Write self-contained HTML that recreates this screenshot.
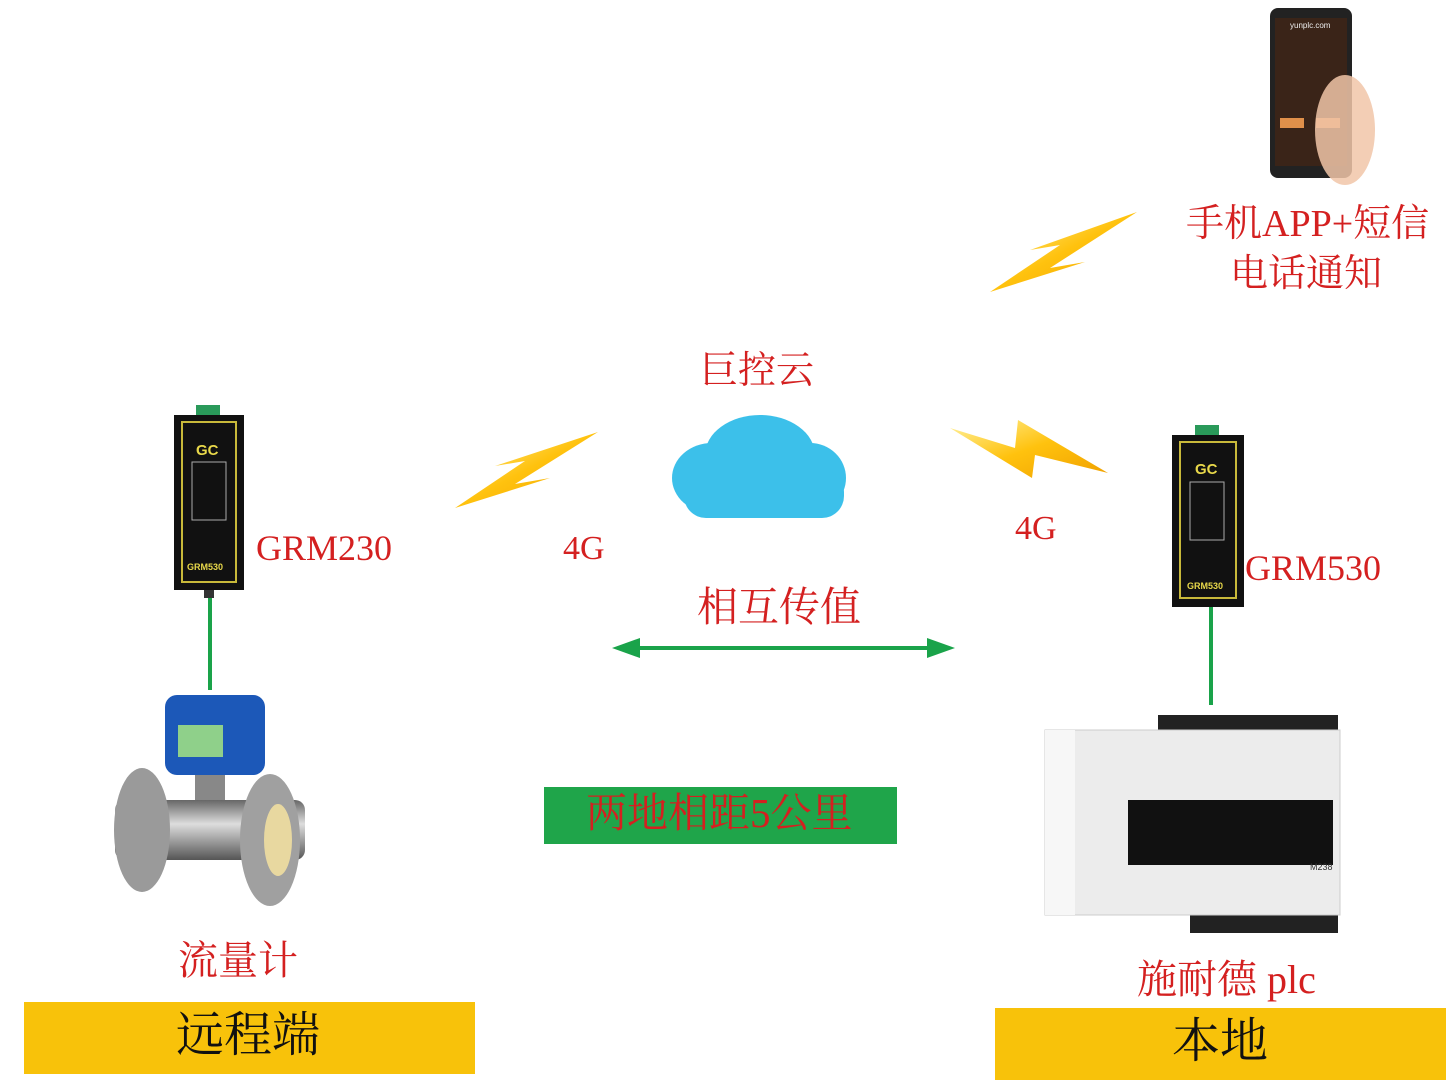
<!DOCTYPE html>
<html><head><meta charset="utf-8"><style>
body{margin:0;width:1446px;height:1080px;background:#fff;position:relative;overflow:hidden;font-family:"Liberation Serif","Noto Serif CJK SC",serif}
.t{position:absolute;color:#d42020;white-space:nowrap;line-height:1}
.abs{position:absolute}
</style></head><body>
<svg class="abs" style="left:0;top:0" width="1446" height="1080">
<defs>
<linearGradient id="bolt" x1="0" y1="0" x2="1" y2="1"><stop offset="0" stop-color="#fff2a0"/><stop offset="0.5" stop-color="#ffc20e"/><stop offset="1" stop-color="#f0a000"/></linearGradient>
<linearGradient id="pipe" x1="0" y1="0" x2="0" y2="1"><stop offset="0" stop-color="#666"/><stop offset="0.4" stop-color="#ddd"/><stop offset="1" stop-color="#555"/></linearGradient>
</defs>
<!-- bolts -->
<polygon points="455,508 525,461 495,466 598,432 515,484 550,478" fill="url(#bolt)"/>
<polygon points="990,292 1060,245 1030,250 1137,212 1050,268 1085,262" fill="url(#bolt)"/>
<polygon points="950,428 1015,448 1018,420 1108,473 1035,455 1032,478" fill="url(#bolt)"/>
<!-- cloud -->
<g fill="#3cc0ea">
<ellipse cx="760" cy="455" rx="55" ry="40"/>
<ellipse cx="712" cy="478" rx="40" ry="35"/>
<ellipse cx="810" cy="478" rx="36" ry="35"/>
<rect x="684" y="470" width="160" height="48" rx="22"/>
</g>
<!-- green lines -->
<line x1="210" y1="590" x2="210" y2="690" stroke="#1aa34a" stroke-width="4"/>
<line x1="1211" y1="600" x2="1211" y2="705" stroke="#1aa34a" stroke-width="4"/>
<line x1="625" y1="648" x2="940" y2="648" stroke="#1aa34a" stroke-width="4"/>
<polygon points="612,648 640,638 640,658" fill="#1aa34a"/>
<polygon points="955,648 927,638 927,658" fill="#1aa34a"/>
<!-- devices -->
<g>
<rect x="196" y="405" width="24" height="12" fill="#2a9a5a"/>
<rect x="174" y="415" width="70" height="175" fill="#111"/>
<rect x="182" y="422" width="54" height="160" fill="none" stroke="#c8b93a" stroke-width="2"/>
<text x="196" y="455" fill="#e8d84a" font-family="Liberation Sans" font-weight="bold" font-size="15">GC</text>
<rect x="192" y="462" width="34" height="58" fill="none" stroke="#aaa"/>
<text x="187" y="570" fill="#e8d84a" font-family="Liberation Sans" font-weight="bold" font-size="9">GRM530</text>
<rect x="204" y="590" width="10" height="8" fill="#333"/>
</g>
<g>
<rect x="1195" y="425" width="24" height="12" fill="#2a9a5a"/>
<rect x="1172" y="435" width="72" height="172" fill="#111"/>
<rect x="1180" y="442" width="56" height="156" fill="none" stroke="#c8b93a" stroke-width="2"/>
<text x="1195" y="474" fill="#e8d84a" font-family="Liberation Sans" font-weight="bold" font-size="15">GC</text>
<rect x="1190" y="482" width="34" height="58" fill="none" stroke="#aaa"/>
<text x="1187" y="589" fill="#e8d84a" font-family="Liberation Sans" font-weight="bold" font-size="9">GRM530</text>
</g>
<!-- flowmeter -->
<rect x="165" y="695" width="100" height="80" rx="12" fill="#1c58b8"/>
<rect x="178" y="725" width="45" height="32" fill="#8fd08a"/>
<rect x="195" y="775" width="30" height="30" fill="#888"/>
<rect x="115" y="800" width="190" height="60" rx="10" fill="url(#pipe)"/>
<ellipse cx="142" cy="830" rx="28" ry="62" fill="#9a9a9a"/>
<ellipse cx="270" cy="840" rx="30" ry="66" fill="#a0a0a0"/>
<ellipse cx="278" cy="840" rx="14" ry="36" fill="#e8d8a0"/>
<!-- PLC -->
<rect x="1158" y="715" width="180" height="28" fill="#222"/>
<rect x="1190" y="905" width="148" height="28" fill="#222"/>
<rect x="1045" y="730" width="295" height="185" fill="#ececec" stroke="#ccc"/>
<rect x="1128" y="800" width="205" height="65" fill="#111"/>
<rect x="1045" y="730" width="30" height="185" fill="#f7f7f7"/>
<text x="1310" y="870" font-family="Liberation Sans" font-size="9" fill="#333">M238</text>
<!-- phone -->
<rect x="1270" y="8" width="82" height="170" rx="8" fill="#222"/>
<rect x="1275" y="18" width="72" height="148" fill="#3a2418"/>
<text x="1290" y="28" font-family="Liberation Sans" font-size="8" fill="#eee">yunplc.com</text>
<rect x="1280" y="118" width="24" height="10" fill="#e0904a"/>
<rect x="1316" y="118" width="24" height="10" fill="#e0904a"/>
<ellipse cx="1345" cy="130" rx="30" ry="55" fill="#f1c6a8" opacity="0.85"/>
</svg>
<div class="t" style="left:1186px;top:205px;font-size:38px">手机APP+短信</div>
<div class="t" style="left:1230px;top:255px;font-size:38px">电话通知</div>
<div class="t" style="left:700px;top:352px;font-size:38px">巨控云</div>
<div class="t" style="left:256px;top:530px;font-size:36px">GRM230</div>
<div class="t" style="left:563px;top:532px;font-size:34px">4G</div>
<div class="t" style="left:1015px;top:512px;font-size:34px">4G</div>
<div class="t" style="left:1245px;top:550px;font-size:36px">GRM530</div>
<div class="t" style="left:697px;top:587px;font-size:41px">相互传值</div>
<div class="abs" style="left:544px;top:787px;width:353px;height:57px;background:#1fa54a"></div>
<div class="t" style="left:586px;top:793px;font-size:41px">两地相距5公里</div>
<div class="t" style="left:178px;top:941px;font-size:40px">流量计</div>
<div class="t" style="left:1137px;top:960px;font-size:40px">施耐德 plc</div>
<div class="abs" style="left:24px;top:1002px;width:451px;height:72px;background:#f8c20a"></div>
<div class="t" style="left:176px;top:1012px;font-size:48px;color:#111">远程端</div>
<div class="abs" style="left:995px;top:1008px;width:451px;height:72px;background:#f8c20a"></div>
<div class="t" style="left:1172px;top:1018px;font-size:48px;color:#111">本地</div>
</body></html>
